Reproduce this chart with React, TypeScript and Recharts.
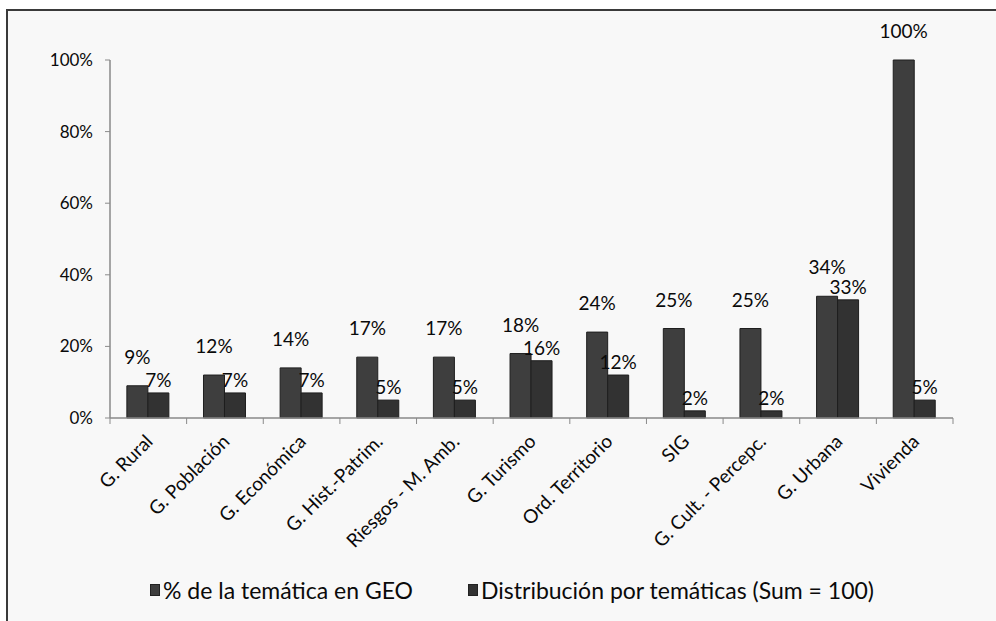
import React from 'react';
import { BarChart, Bar, XAxis, YAxis, Legend, LabelList } from 'recharts';

const categories = [
  'G. Rural',
  'G. Población',
  'G. Económica',
  'G. Hist.-Patrim.',
  'Riesgos - M. Amb.',
  'G. Turismo',
  'Ord. Territorio',
  'SIG',
  'G. Cult. - Percepc.',
  'G. Urbana',
  'Vivienda',
];
const geoShare = [9, 12, 14, 17, 17, 18, 24, 25, 25, 34, 100];
const thematicDist = [7, 7, 7, 5, 5, 16, 12, 2, 2, 33, 5];
const yTicks = [0, 20, 40, 60, 80, 100];
const seriesNames = ['% de la temática en GEO', 'Distribución por temáticas (Sum = 100)'];

const data = categories.map((c, i) => ({ name: c, geo: geoShare[i], dist: thematicDist[i] }));

const W = 996;
const H = 621;
const MARGIN = { top: 60, right: 43, bottom: 53, left: 50 };
const Y_W = 60;
const X_H = 150;
const FONT = 'Lato, "Open Sans", sans-serif';
const AXIS = '#8a8a8a';
const TXT = '#0a0a0a';
const C1 = '#3e3e3e';
const C2 = '#323232';

const bandFallback = (W - MARGIN.left - MARGIN.right - Y_W) / categories.length;

const CategoryTick = (props: any) => {
  const { x, y, payload, index } = props;
  const n = props.visibleTicksCount || categories.length;
  const band = typeof props.width === 'number' && props.width > 0 && props.width < W ? props.width / n : bandFallback;
  return (
    <g transform={`translate(${x},${y})`}>
      <line x1={-band / 2} x2={-band / 2} y1={-6} y2={0} stroke={AXIS} strokeWidth={1} />
      {index === n - 1 && <line x1={band / 2} x2={band / 2} y1={-6} y2={0} stroke={AXIS} strokeWidth={1} />}
      <g transform="translate(1,14)">
        <text
          x={0}
          y={0}
          dy="0.35em"
          transform="rotate(-45)"
          textAnchor="end"
          fontFamily={FONT}
          fontSize={19}
          fill={TXT}
        >
          {payload.value}
        </text>
      </g>
    </g>
  );
};

const LegendContent = (props: any) => {
  const payload = props.payload || [];
  return (
    <div
      style={{
        display: 'flex',
        justifyContent: 'center',
        alignItems: 'center',
        gap: 55,
        fontFamily: FONT,
        fontSize: 23,
        lineHeight: '28px',
        color: TXT,
        paddingLeft: 28,
      }}
    >
      {payload.map((p: any, i: number) => (
        <div key={i} style={{ display: 'flex', alignItems: 'center' }}>
          <span
            style={{
              display: 'inline-block',
              width: 10,
              height: 12,
              background: p.color,
              border: '1px solid #222',
              marginRight: 3,
              boxSizing: 'border-box',
            }}
          />
          <span style={{ whiteSpace: 'nowrap' }}>{p.value}</span>
        </div>
      ))}
    </div>
  );
};

export default function App() {
  return (
    <div style={{ position: 'fixed', left: 0, top: 0, width: W, height: H, background: '#ffffff', overflow: 'hidden' }}>
      <div
        style={{
          position: 'absolute',
          left: 6,
          top: 9,
          width: W - 6,
          height: H - 9,
          borderLeft: '2px solid #3a3a3a',
          borderTop: '2px solid #3a3a3a',
          background: '#f8f8f8',
          boxSizing: 'border-box',
        }}
      />
      <div style={{ position: 'absolute', left: 0, top: 0 }}>
        <BarChart width={W} height={H} data={data} margin={MARGIN} barCategoryGap="22%" barGap={0}>
          <XAxis
            dataKey="name"
            interval={0}
            height={X_H}
            tickSize={6}
            tickMargin={0}
            tickLine={false}
            axisLine={{ stroke: AXIS, strokeWidth: 1.5 }}
            tick={<CategoryTick />}
          />
          <YAxis
            width={Y_W}
            domain={[0, 100]}
            ticks={yTicks}
            interval={0}
            tickSize={5}
            tickMargin={12}
            tickLine={{ stroke: AXIS }}
            axisLine={{ stroke: AXIS, strokeWidth: 1.5 }}
            tickFormatter={(v: number) => `${v}%`}
            tick={{ fontFamily: FONT, fontSize: 17, fill: TXT }}
          />
          <Legend
            layout="vertical"
            verticalAlign="middle"
            align="center"
            content={<LegendContent />}
            wrapperStyle={{ position: 'absolute', top: 576, left: 0, width: W }}
          />
          <Bar dataKey="geo" name={seriesNames[0]} fill={C1} stroke="#1e1e1e" strokeWidth={1} isAnimationActive={false}>
            <LabelList
              dataKey="geo"
              position="top"
              offset={22}
              formatter={(v: any) => `${v}%`}
              style={{ fontFamily: FONT, fontSize: 19, fill: TXT }}
            />
          </Bar>
          <Bar dataKey="dist" name={seriesNames[1]} fill={C2} stroke="#1e1e1e" strokeWidth={1} isAnimationActive={false}>
            <LabelList
              dataKey="dist"
              position="top"
              offset={6}
              formatter={(v: any) => `${v}%`}
              style={{ fontFamily: FONT, fontSize: 19, fill: TXT }}
            />
          </Bar>
        </BarChart>
      </div>
    </div>
  );
}
